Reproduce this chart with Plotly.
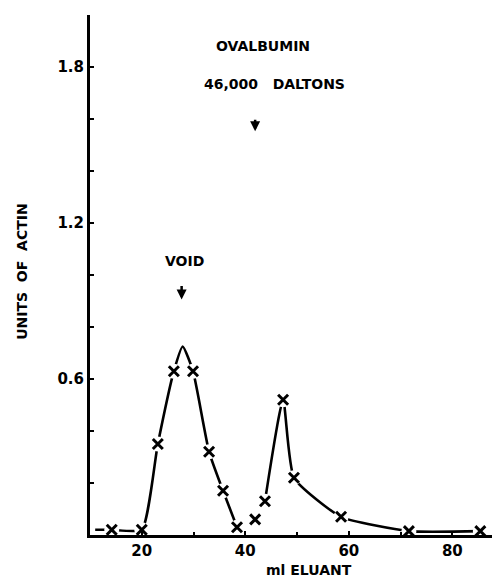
import plotly.graph_objects as go

# measured points (ml eluant, units of actin)
elution_ml = [14.2, 20.0, 23.1, 26.2, 29.9, 33.0, 35.7, 38.4, 41.9, 43.8, 47.3, 49.4, 58.5, 71.6, 85.4]
actin_units = [0.02, 0.02, 0.35, 0.63, 0.63, 0.32, 0.17, 0.03, 0.06, 0.13, 0.52, 0.22, 0.07, 0.015, 0.015]

# hand-drawn curve through the points (None = break in the curve)
curve_ml = [11.0, 14.2, 20.0, 23.1, 26.2, 27.9, 29.9, 33.0, 35.7, 38.4, None, 43.8, 47.3, 49.4, 58.5, 71.6, 85.4]
curve_units = [0.02, 0.02, 0.02, 0.35, 0.63, 0.725, 0.63, 0.32, 0.17, 0.03, None, 0.13, 0.52, 0.22, 0.07, 0.015, 0.015]

y_tick_vals = [0.6, 1.2, 1.8]
y_tick_text = ["0.6", "1.2", "1.8"]
x_tick_vals = [20, 40, 60, 80]
x_tick_text = ["20", "40", "60", "80"]

FONT = "DejaVu Sans"

fig = go.Figure()
fig.add_trace(go.Scatter(x=curve_ml, y=curve_units, mode="lines",
                         line=dict(color="black", width=2.6, shape="spline", smoothing=0.5),
                         connectgaps=False, hoverinfo="skip"))
fig.add_trace(go.Scatter(x=elution_ml, y=actin_units, mode="markers",
                         marker=dict(symbol="circle", size=15, color="white"),
                         hoverinfo="skip"))
fig.add_trace(go.Scatter(x=elution_ml, y=actin_units, mode="markers",
                         marker=dict(symbol="x-thin", size=10, color="black",
                                     line=dict(color="black", width=3))))

# page body has an 8px margin, so the figure is offset by 8px
fig.update_layout(
    width=492, height=572,
    margin=dict(l=82, r=0, t=7, b=45),
    paper_bgcolor="white", plot_bgcolor="white",
    showlegend=False,
    font=dict(family=FONT, color="black", size=15, weight="bold"),
)
fig.update_xaxes(range=[10, 89.2], showgrid=False, zeroline=False,
                 showline=True, linewidth=3, linecolor="black",
                 tickvals=x_tick_vals, ticktext=x_tick_text,
                 ticks="inside", ticklen=4, tickwidth=2, tickcolor="black",
                 minor=dict(dtick=10, tick0=0, ticks="inside", ticklen=3, tickwidth=2, tickcolor="black"),
                 tickfont=dict(family=FONT, size=15, weight="bold"))
fig.update_yaxes(range=[0, 2.0], showgrid=False, zeroline=False,
                 showline=True, linewidth=3, linecolor="black",
                 tickvals=y_tick_vals, ticktext=y_tick_text,
                 ticks="inside", ticklen=4, tickwidth=2, tickcolor="black",
                 minor=dict(dtick=0.2, tick0=0, ticks="inside", ticklen=4, tickwidth=2, tickcolor="black"),
                 tickfont=dict(family=FONT, size=15, weight="bold"))

ann_font = dict(family=FONT, size=14, color="black", weight="bold")
fig.add_annotation(x=43.4, y=1.881, text="OVALBUMIN", showarrow=False, font=ann_font)
fig.add_annotation(x=45.7, y=1.735, text="46,000   DALTONS", showarrow=False, font=ann_font)
fig.add_annotation(x=28.3, y=1.052, text="VOID", showarrow=False, font=ann_font)
fig.add_annotation(x=41.9, y=1.553, ax=0, ay=-13, text="", showarrow=True,
                   arrowhead=2, arrowsize=0.8, arrowwidth=2.5, arrowcolor="black")
fig.add_annotation(x=27.7, y=0.906, ax=0, ay=-15, text="", showarrow=True,
                   arrowhead=2, arrowsize=0.8, arrowwidth=2.5, arrowcolor="black")
fig.add_annotation(xref="paper", yref="paper", x=-0.166, y=0.506, text="UNITS  OF  ACTIN",
                   xanchor="center", yanchor="middle",
                   textangle=-90, showarrow=False, font=ann_font)
fig.add_annotation(xref="paper", yref="paper", x=0.535, y=-0.068, text="ml ELUANT",
                   xanchor="center", yanchor="middle",
                   showarrow=False, font=dict(family=FONT, size=14, color="black", weight="bold"))

fig.write_html("out.html")
